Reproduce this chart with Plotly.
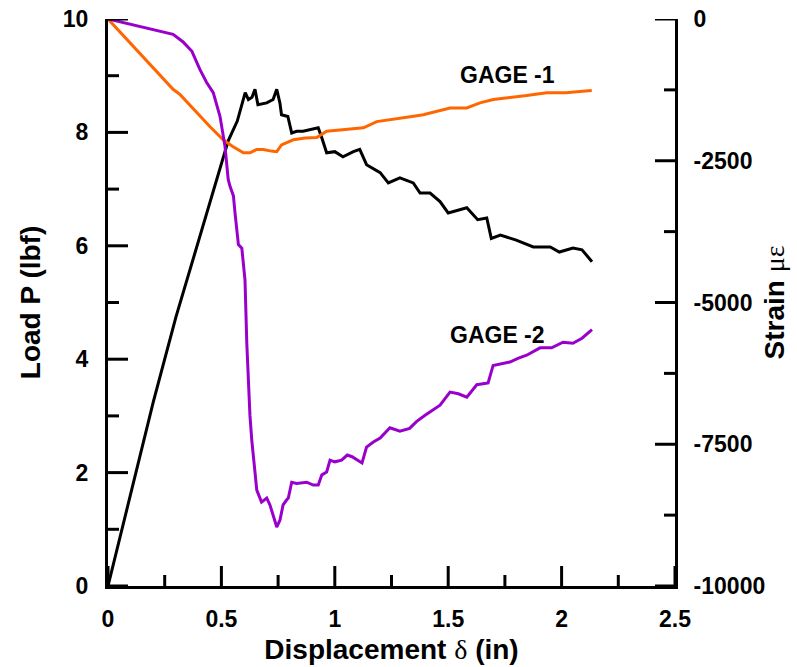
import plotly.graph_objects as go

# ---- data ----
load_x = [0, 0.1, 0.2, 0.3, 0.4, 0.479, 0.53, 0.57, 0.597, 0.605, 0.619, 0.635,
          0.648, 0.661, 0.70, 0.728, 0.744, 0.758, 0.765, 0.793, 0.81, 0.832, 0.86, 0.89, 0.927,
          0.943, 0.964, 1.0, 1.036, 1.082, 1.11, 1.14, 1.2, 1.236, 1.287, 1.346, 1.376, 1.42,
          1.464, 1.5, 1.54, 1.582, 1.63, 1.67, 1.69, 1.73, 1.80, 1.875, 1.95, 1.99, 2.05, 2.09, 2.134]
load_p = [0, 1.6, 3.25, 4.75, 6.1, 7.17, 7.85, 8.2, 8.58, 8.70, 8.58, 8.62,
          8.76, 8.49, 8.52, 8.58, 8.76, 8.52, 8.31, 8.28, 7.99, 8.02, 8.02, 8.05, 8.08,
          7.9, 7.64, 7.66, 7.57, 7.66, 7.7, 7.43, 7.29, 7.11, 7.2, 7.11, 6.93, 6.93,
          6.78, 6.58, 6.62, 6.67, 6.46, 6.49, 6.13, 6.19, 6.1, 5.98, 5.98, 5.89, 5.96, 5.93, 5.72]

gage1_x = [0, 0.1, 0.2, 0.287, 0.317, 0.405, 0.45, 0.508, 0.55, 0.597, 0.626, 0.656, 0.685,
           0.72, 0.744, 0.765, 0.817, 0.87, 0.92, 0.964, 1.036, 1.11, 1.126, 1.185, 1.24, 1.287,
           1.34, 1.39, 1.45, 1.508, 1.582, 1.64, 1.699, 1.77, 1.846, 1.934, 2.02, 2.08, 2.133]
gage1_strain = [0, -430, -870, -1240, -1330, -1720, -1900, -2130, -2250, -2360, -2360, -2300, -2300,
                -2330, -2340, -2220, -2130, -2100, -2090, -1980, -1950, -1920, -1920, -1810, -1780, -1760,
                -1720, -1690, -1630, -1570, -1570, -1480, -1420, -1390, -1350, -1300, -1300, -1280, -1260]

gage2_x = [0, 0.1, 0.2, 0.287, 0.33, 0.37, 0.405, 0.435, 0.464, 0.494, 0.516, 0.53, 0.538, 0.553,
           0.56, 0.575, 0.59, 0.604, 0.612, 0.618, 0.626, 0.634, 0.648, 0.656, 0.677, 0.70, 0.714,
           0.744, 0.758, 0.772, 0.788, 0.795, 0.81, 0.832, 0.876, 0.905, 0.927, 0.943, 0.964, 0.979,
           1.0, 1.03, 1.055, 1.076, 1.12, 1.14, 1.17, 1.2, 1.243, 1.287, 1.33, 1.36, 1.398, 1.43,
           1.464, 1.508, 1.545, 1.582, 1.626, 1.676, 1.698, 1.772, 1.81, 1.846, 1.905, 1.956, 2.006,
           2.05, 2.09, 2.134]
gage2_strain = [0, -94, -190, -270, -400, -570, -890, -1120, -1300, -1720, -2250, -2830, -2950, -3120,
                -3420, -3980, -4040, -4600, -5720, -6370, -7000, -7430, -8010, -8310, -8520, -8450, -8570,
                -8960, -8840, -8570, -8480, -8450, -8170, -8190, -8170, -8220, -8220, -8040, -7990, -7780,
                -7810, -7780, -7690, -7720, -7830, -7550, -7460, -7390, -7210, -7270, -7220, -7100, -6990, -6900,
                -6810, -6580, -6610, -6670, -6450, -6420, -6110, -6050, -5980, -5930, -5800, -5800, -5700,
                -5720, -5630, -5480]

x_range = [0, 2.5]
load_range = [0, 10]
strain_range = [-10000, 0]
x_major = [0, 0.5, 1, 1.5, 2, 2.5]
x_minor = [0.25, 0.75, 1.25, 1.75, 2.25]
load_major = [0, 2, 4, 6, 8, 10]
load_minor = [1, 3, 5, 7, 9]
strain_major = [-10000, -7500, -5000, -2500, 0]
strain_minor = [-8750, -6250, -3750, -1250]
strain_ticktext = ["-10000", "-7500", "-5000", "-2500", "0"]

FONT = "Liberation Sans, Arial, sans-serif"
MAJOR_LEN, MINOR_LEN, TICK_W = 20, 11, 3

fig = go.Figure()
fig.add_trace(go.Scatter(x=load_x, y=load_p, mode="lines", name="Load",
                         line=dict(color="black", width=3), xaxis="x", yaxis="y"))
fig.add_trace(go.Scatter(x=gage1_x, y=gage1_strain, mode="lines", name="GAGE -1",
                         line=dict(color="#FF6600", width=3), xaxis="x", yaxis="y2"))
fig.add_trace(go.Scatter(x=gage2_x, y=gage2_strain, mode="lines", name="GAGE -2",
                         line=dict(color="#9900CC", width=3), xaxis="x", yaxis="y2"))

labelfont = dict(family=FONT, size=23, color="black", weight="bold")
titlefont = dict(family=FONT, size=28, color="black", weight="bold")
main = dict(ticks="", showline=True, linewidth=3, linecolor="black",
            showgrid=False, zeroline=False, automargin=False, tickfont=labelfont)

fig.update_layout(
    width=797, height=667,
    margin=dict(l=108, r=122, t=19, b=81),
    paper_bgcolor="white", plot_bgcolor="white",
    showlegend=False,
    xaxis=dict(range=x_range, tickmode="array", tickvals=x_major,
               title=dict(text="Displacement <span style='font-weight:normal;font-family:Liberation Serif'>δ</span> (in)",
                          font=titlefont, standoff=9),
               ticklabelstandoff=10, **main),
    yaxis=dict(range=load_range, tickmode="array", tickvals=load_major,
               title=dict(text="Load P (lbf)", font=titlefont, standoff=15),
               ticklabelstandoff=12, **main),
    yaxis2=dict(range=strain_range, overlaying="y", side="right", anchor="x",
                tickmode="array", tickvals=strain_major, ticktext=strain_ticktext,
                title=dict(text="Strain <span style='font-weight:normal;font-family:Liberation Serif'>με</span>",
                           font=titlefont, standoff=1),
                ticklabelstandoff=11, **main),
)

# inward tick marks, positioned through the axes' own scales
tick_line = dict(color="black", width=TICK_W)
for vals, length in ((x_major, MAJOR_LEN), (x_minor, MINOR_LEN)):
    for v in vals:
        fig.add_shape(type="line", xref="x", yref="y domain", ysizemode="pixel", yanchor=0,
                      x0=v, x1=v, y0=0, y1=length, line=tick_line, layer="above")
for vals, length in ((load_major, MAJOR_LEN), (load_minor, MINOR_LEN)):
    for v in vals:
        fig.add_shape(type="line", yref="y", xref="x domain", xsizemode="pixel", xanchor=0,
                      y0=v, y1=v, x0=0, x1=length, line=tick_line, layer="above")
for vals, length in ((strain_major, MAJOR_LEN), (strain_minor, MINOR_LEN)):
    for v in vals:
        fig.add_shape(type="line", yref="y2", xref="x domain", xsizemode="pixel", xanchor=1,
                      y0=v, y1=v, x0=0, x1=-length, line=tick_line, layer="above")

fig.add_annotation(x=1.761, y=9.02, xref="x", yref="y", text="GAGE -1", showarrow=False,
                   font=labelfont)
fig.add_annotation(x=1.717, y=4.43, xref="x", yref="y", text="GAGE -2", showarrow=False,
                   font=labelfont)

fig.write_html("out.html")
